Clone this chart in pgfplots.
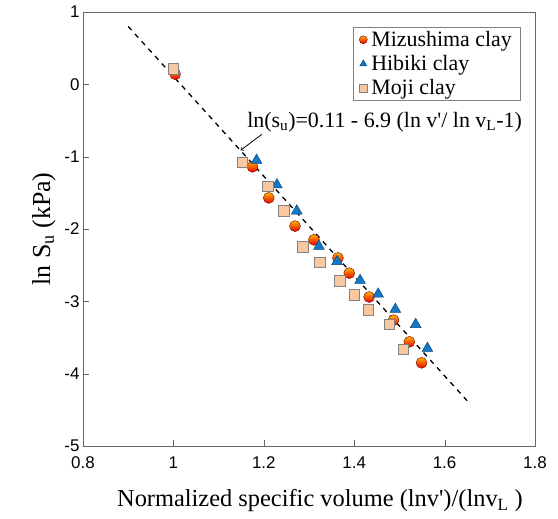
\documentclass[border=0pt]{standalone}
\usepackage{pgfplots}
\pgfplotsset{compat=1.18}
\usepackage{fontspec}
\setmainfont{Liberation Serif}
\setsansfont{Liberation Sans}
\newfontfamily\rmplain{Liberation Serif}
\definecolor{triblue}{RGB}{20,120,200}
\definecolor{sqfill}{RGB}{250,200,160}
\definecolor{sqedge}{RGB}{130,130,130}
\pgfdeclareverticalshading{ballshade}{100bp}{color(0bp)=(red!90!black); color(25bp)=(red!90!black); color(75bp)=(orange!60!yellow); color(100bp)=(orange!60!yellow)}
\pgfdeclareplotmark{gball}{%
  \pgfpathcircle{\pgfpoint{0pt}{0pt}}{\pgfplotmarksize}%
  \pgfshadepath{ballshade}{0}%
  \pgfusepathqstroke}
\begin{document}
\begin{tikzpicture}
\begin{axis}[
  width=452bp, height=434bp, scale only axis,
  xmin=0.8, xmax=1.8, ymin=-5, ymax=1,
  xtick={0.8,1,1.2,1.4,1.6,1.8},
  xticklabels={0.8,1,1.2,1.4,1.6,1.8},
  ytick={-5,-4,-3,-2,-1,0,1},
  yticklabels={-5,-4,-3,-2,-1,0,1},
  tick label style={font=\fontsize{17}{17}\sffamily},
  xticklabel style={yshift=-7bp},
  xtick pos=bottom, ytick pos=left, tick align=inside,
  major tick length=6bp,
  axis line style={gray!80!black},
  tick style={gray!80!black},
  xlabel={Normalized specific volume (lnv{\rmplain'})/(lnv\textsubscript{L} )},
  ylabel={ln S\textsubscript{u} (kPa)},
  xlabel style={font=\fontsize{24.5}{24.5}\selectfont, yshift=-14bp, xshift=11bp},
  ylabel style={font=\fontsize{26}{26}\selectfont, yshift=2bp},
  legend style={at={(0.967,0.965)}, anchor=north east, draw=gray, font=\fontsize{22}{22}\selectfont, inner xsep=6bp, inner ysep=2bp, row sep=3.5bp, column sep=2bp},
  legend image post style={mark size=4bp},
  legend cell align=left,
]
\addplot[only marks, mark=gball, mark size=5.5bp, mark options={draw=black!50!red, line width=0.4bp}] coordinates {
(1.004,0.14) (1.175,-1.14) (1.211,-1.57) (1.269,-1.96) (1.311,-2.15) (1.364,-2.40)
(1.389,-2.61) (1.433,-2.94) (1.487,-3.26) (1.522,-3.56) (1.549,-3.85)};
\addlegendentry{Mizushima clay}
\addplot[only marks, mark=triangle*, mark size=6.2bp, mark options={fill=triblue, draw=triblue!60!black, line width=0.5bp}] coordinates {
(1.184,-1.05) (1.229,-1.39) (1.273,-1.75) (1.322,-2.24) (1.362,-2.45) (1.413,-2.71)
(1.453,-2.90) (1.491,-3.11) (1.536,-3.32) (1.562,-3.65)};
\addlegendentry{Hibiki clay}
\addplot[only marks, mark=square*, mark size=5.2bp, mark options={fill=sqfill, draw=sqedge, line width=1bp}] coordinates {
(1.000,0.21) (1.153,-1.08) (1.209,-1.41) (1.245,-1.75) (1.287,-2.25) (1.324,-2.46)
(1.369,-2.72) (1.400,-2.91) (1.431,-3.12) (1.478,-3.32) (1.509,-3.67)};
\addlegendentry{Moji clay}
\addplot[black, dashed, line width=1.3bp, dash pattern=on 5bp off 5bp, forget plot] coordinates {(0.9,0.80) (1.65,-4.375)};
\draw[->, line width=0.8bp] (axis cs:1.196,-0.69) -- (axis cs:1.149,-0.91);
\node[anchor=west, inner sep=0pt, font=\fontsize{22}{22}\selectfont] at (axis cs:1.163,-0.52) {ln(s\textsubscript{u})=0.11 - 6.9 (ln v{\rmplain'}/ ln v\textsubscript{L}-1)};
\end{axis}
\useasboundingbox (-83bp,-73bp) rectangle (475bp,446bp);
\end{tikzpicture}
\end{document}
